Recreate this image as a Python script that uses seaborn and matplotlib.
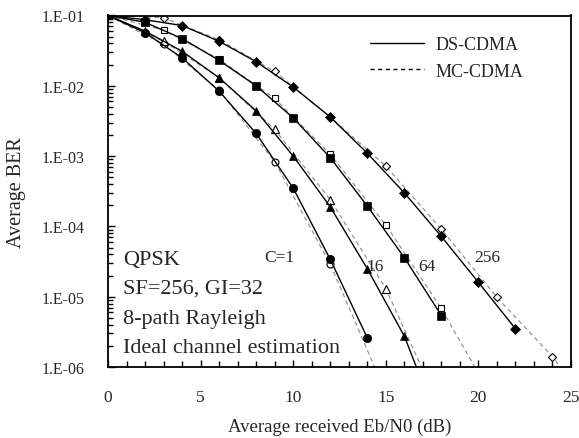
import numpy as np
import pandas as pd
import matplotlib
matplotlib.use("Agg")
import matplotlib.pyplot as plt
from matplotlib.ticker import FuncFormatter, MultipleLocator, LogLocator, NullFormatter
from matplotlib.lines import Line2D
import seaborn as sns

# ---------------- data ----------------
# DS-CDMA (filled markers, solid line), Eb/N0 in dB
ds_x_c1 = [0, 2, 4, 6, 8, 10, 12, 14]
ds_c1 = [1.0e-1, 5.7e-2, 2.5e-2, 8.4e-3, 2.1e-3, 3.5e-4, 3.4e-5, 2.6e-6]
ds_x_c16 = [0, 2, 4, 6, 8, 10, 12, 14, 16, 17]
ds_c16 = [1.0e-1, 6.0e-2, 3.1e-2, 1.3e-2, 4.4e-3, 1.0e-3, 1.9e-4, 2.5e-5, 2.75e-6, 5.8e-7]
ds_x_c64 = [0, 2, 4, 6, 8, 10, 12, 14, 16, 18]
ds_c64 = [1.0e-1, 8.0e-2, 4.7e-2, 2.3e-2, 1.0e-2, 3.5e-3, 9.5e-4, 1.95e-4, 3.6e-5, 5.4e-6]
ds_x_c256 = [0, 2, 4, 6, 8, 10, 12, 14, 16, 18, 20, 22]
ds_c256 = [1.0e-1, 8.7e-2, 7.2e-2, 4.3e-2, 2.2e-2, 9.6e-3, 3.6e-3, 1.1e-3, 3.0e-4, 7.2e-5, 1.6e-5, 3.5e-6]

# MC-CDMA (open markers, dashed line)
mc_x_c1 = [0, 3, 6, 9, 12, 15]
mc_c1 = [1.0e-1, 3.9e-2, 8.6e-3, 8.3e-4, 2.9e-5, 4.3e-7]
mc_x_c16 = [0, 3, 6, 9, 12, 15, 18]
mc_c16 = [1.0e-1, 4.3e-2, 1.3e-2, 2.4e-3, 2.4e-4, 1.3e-5, 2.4e-7]
mc_x_c64 = [0, 3, 6, 9, 12, 15, 18, 21]
mc_c64 = [1.0e-1, 6.2e-2, 2.4e-2, 6.6e-3, 1.07e-3, 1.05e-4, 6.8e-6, 2.8e-7]
mc_x_c256 = [0, 3, 6, 9, 12, 15, 18, 21, 24, 25]
mc_c256 = [1.0e-1, 9.3e-2, 4.5e-2, 1.6e-2, 3.6e-3, 7.2e-4, 9.1e-5, 9.8e-6, 1.4e-6, 6.3e-7]

# number of leading points that carry a marker (the rest only extend the line)
ds_marked = {"c1": 8, "c16": 9, "c64": 10, "c256": 12}
mc_marked = {"c1": 5, "c16": 6, "c64": 7, "c256": 9}

curve_labels = ["C=1", "16", "64", "256"]
label_x = [9.23, 14.4, 17.2, 20.5]
label_y = [3.7e-5, 2.7e-5, 2.7e-5, 3.7e-5]

info_lines = ["QPSK", "SF=256, GI=32", "8-path Rayleigh", "Ideal channel estimation"]
ytick_values = [1e-6, 1e-5, 1e-4, 1e-3, 1e-2, 1e-1]
xtick_values = [0, 5, 10, 15, 20, 25]

# ---------------- style ----------------
sns.set_theme(style="ticks")
plt.rcParams["font.family"] = ["Liberation Serif", "DejaVu Serif"]

fig = plt.figure(figsize=(5.79, 4.39), dpi=100)
ax = fig.add_axes([108 / 579, 1 - 368 / 439, 463 / 579, 351.5 / 439])

markers = {"c1": "o", "c16": "^", "c64": "s", "c256": "D"}
ds_msize = {"c1": 6.0, "c16": 6.4, "c64": 5.8, "c256": 5.0}
mc_msize = {"c1": 5.0, "c16": 5.2, "c64": 5.0, "c256": 4.2}

ds_sets = {"c1": (ds_x_c1, ds_c1), "c16": (ds_x_c16, ds_c16),
           "c64": (ds_x_c64, ds_c64), "c256": (ds_x_c256, ds_c256)}
mc_sets = {"c1": (mc_x_c1, mc_c1), "c16": (mc_x_c16, mc_c16),
           "c64": (mc_x_c64, mc_c64), "c256": (mc_x_c256, mc_c256)}

# MC-CDMA first (underneath)
for key, (xs, ys) in mc_sets.items():
    df = pd.DataFrame({"snr": xs, "ber": ys})
    sns.lineplot(data=df, x="snr", y="ber", ax=ax, color="#8a8a8a", lw=0.8,
                 linestyle=(0, (4, 3)), sort=False, errorbar=None,
                 marker=markers[key], markersize=mc_msize[key],
                 markerfacecolor="white", markeredgecolor="black",
                 markeredgewidth=0.8, markevery=list(range(mc_marked[key])))

for key, (xs, ys) in ds_sets.items():
    df = pd.DataFrame({"snr": xs, "ber": ys})
    sns.lineplot(data=df, x="snr", y="ber", ax=ax, color="black", lw=1.0,
                 sort=False, errorbar=None,
                 marker=markers[key], markersize=ds_msize[key],
                 markerfacecolor="black", markeredgecolor="black",
                 markeredgewidth=0.5, markevery=list(range(ds_marked[key])))

ax.set_yscale("log")
ax.set_xlim(0, 25)
ax.set_ylim(1e-6, 1e-1)

ax.set_xticks(xtick_values)
ax.xaxis.set_minor_locator(MultipleLocator(1))
ax.set_yticks(ytick_values)
ax.yaxis.set_minor_locator(LogLocator(base=10, subs=np.arange(2, 10)))
ax.yaxis.set_minor_formatter(NullFormatter())
ax.yaxis.set_major_formatter(FuncFormatter(
    lambda v, p: "1.E-%02d" % int(round(-np.log10(v)))))

ax.tick_params(axis="both", which="both", direction="in", color="black", width=1.0)
ax.tick_params(axis="x", which="major", length=5, pad=16, labelsize=12.5)
ax.tick_params(axis="x", which="minor", length=4)
ax.tick_params(axis="y", which="major", length=5, pad=17, labelsize=11.5)
ax.tick_params(axis="y", which="minor", length=3.5)
ax.tick_params(top=False, right=False, which="both")

for s in ax.spines.values():
    s.set_color("black")
    s.set_linewidth(1.3)

ax.set_xlabel("Average received Eb/N0 (dB)", fontsize=13.5, labelpad=9)
ax.set_ylabel("Average BER", fontsize=14.5, labelpad=11)

for lab, lx, ly in zip(curve_labels, label_x, label_y):
    ax.text(lx, ly, lab, fontsize=12.5, ha="center", va="center")

info_y = [0.307, 0.224, 0.137, 0.056]
for t, yy in zip(info_lines, info_y):
    ax.text(0.032, yy, t, transform=ax.transAxes, fontsize=16,
            ha="left", va="center")

handles = [Line2D([], [], color="black", lw=1.0),
           Line2D([], [], color="black", lw=1.0, linestyle=(0, (3, 2.5)))]
ax.legend(handles, ["DS-CDMA", "MC-CDMA"], loc="upper left",
          bbox_to_anchor=(0.566, 0.942), frameon=False, fontsize=13,
          handlelength=3.0, handletextpad=0.6, labelspacing=0.55,
          borderpad=0, borderaxespad=0)

fig.savefig("out.png", dpi=100)
